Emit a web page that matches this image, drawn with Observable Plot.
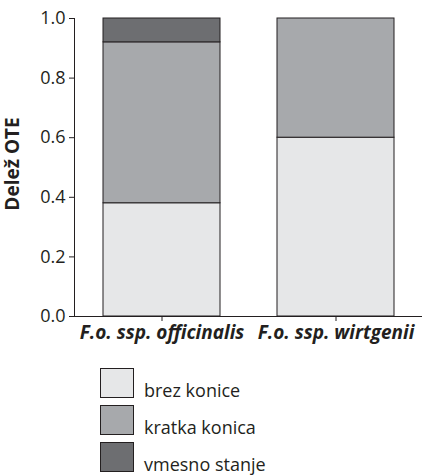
<!DOCTYPE html>
<html><head><meta charset="utf-8">
<script src="https://cdn.jsdelivr.net/npm/d3@7"></script>
<script src="https://cdn.jsdelivr.net/npm/@observablehq/plot@0.6"></script>
<style>
body{margin:0;background:#fff;font-family:"Open Sans",sans-serif;}
#legend{margin-left:100px;margin-top:23px}
.item{display:flex;align-items:flex-end;height:30px;margin-bottom:7px}
.sw{width:32px;height:28px;border:1px solid #231f20;}
.lb{margin-left:10px;font-size:18px;color:#231f20;line-height:18px;margin-bottom:-1px}
</style></head>
<body><div id="chart"></div><div id="legend"></div>
<script>
const categories = ["F.o. ssp. officinalis", "F.o. ssp. wirtgenii"];
const states = ["brez konice", "kratka konica", "vmesno stanje"];
const colors = ["#e6e7e8", "#a7a9ac", "#6d6e71"];
const officinalis = [0.38, 0.54, 0.08];
const wirtgenii = [0.60, 0.40, 0.00];
const yTicks = [0, 0.2, 0.4, 0.6, 0.8, 1.0];

const data = [];
states.forEach((s, i) => {
  data.push({cat: categories[0], state: s, value: officinalis[i]});
  data.push({cat: categories[1], state: s, value: wirtgenii[i]});
});

const chart = Plot.plot({
  width: 422, height: 345,
  marginLeft: 74, marginRight: 0, marginTop: 18, marginBottom: 29,
  style: {fontFamily: "Open Sans", fontSize: "18px", color: "#231f20", overflow: "visible"},
  x: {domain: categories, paddingInner: 0.33, paddingOuter: 0.16, label: null, line: true, tickSize: 5, tickPadding: 4},
  y: {domain: [0, 1], ticks: yTicks, tickFormat: ".1f", label: null, line: true, tickSize: 5, tickPadding: 4},
  color: {domain: states, range: colors},
  marks: [
    Plot.barY(data.filter(d => d.value > 0), {x: "cat", y: "value", fill: "state", stroke: "#231f20", strokeWidth: 1, order: states})
  ]
});
document.getElementById("chart").appendChild(chart);
const svg = d3.select(chart);
svg.selectAll("[aria-label='x-axis tick label'] text")
  .style("font-weight", "bold").style("font-style", "italic").style("font-size", "19px");
svg.append("text").attr("transform", "translate(19,164) rotate(-90)")
  .attr("text-anchor", "middle").attr("font-weight", "bold").attr("font-size", 19)
  .attr("fill", "#231f20").text("Delež OTE");

const leg = document.getElementById("legend");
states.forEach((s, i) => {
  const it = document.createElement("div"); it.className = "item";
  it.innerHTML = `<div class="sw" style="background:${colors[i]}"></div><div class="lb">${s}</div>`;
  leg.appendChild(it);
});
</script></body></html>
